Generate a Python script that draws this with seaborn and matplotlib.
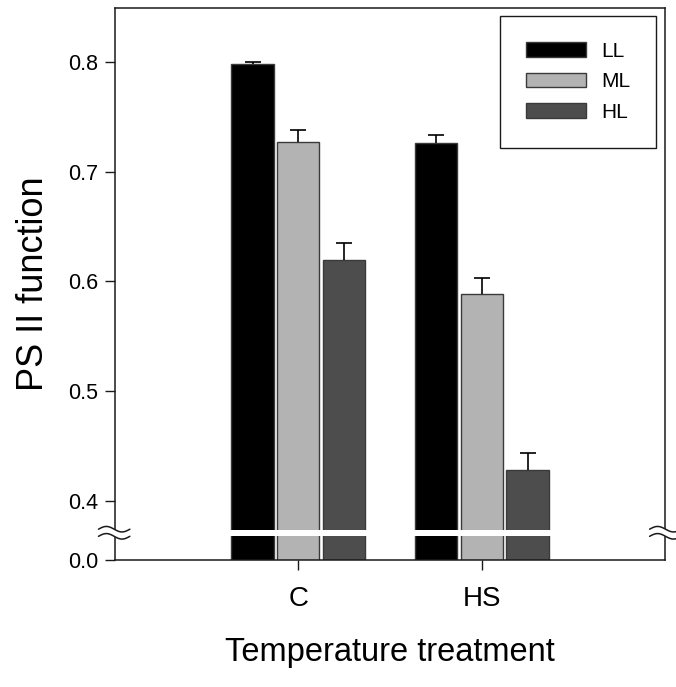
import numpy as np
import pandas as pd
import matplotlib
matplotlib.use("Agg")
import matplotlib.pyplot as plt
import matplotlib.transforms as mtransforms
import seaborn as sns

# ---- data ----
treatments = ["C", "HS"]
light_levels = ["LL", "ML", "HL"]
ll_values = [0.7985, 0.726]
ml_values = [0.7276, 0.5883]
hl_values = [0.6196, 0.428]
ll_errors = [0.0015, 0.0073]
ml_errors = [0.0104, 0.0152]
hl_errors = [0.0153, 0.0152]
ytick_values = [0.4, 0.5, 0.6, 0.7, 0.8]
ytick_labels = ["0.4", "0.5", "0.6", "0.7", "0.8"]
bar_colors = ["#000000", "#b3b3b3", "#4d4d4d"]

# broken axis: the bottom of the axis represents 0.0
AXIS_BOTTOM = 0.3459
AXIS_TOP = 0.8495
BREAK_Y = 0.3705

rows = []
for lvl, vals, errs in zip(light_levels, [ll_values, ml_values, hl_values],
                           [ll_errors, ml_errors, hl_errors]):
    for t, v, e in zip(treatments, vals, errs):
        rows.append({"Treatment": t, "Light": lvl, "Value": v, "Err": e})
df = pd.DataFrame(rows)

sns.set_style("ticks")
plt.rcParams["font.family"] = ["Liberation Sans", "DejaVu Sans"]
plt.rcParams["text.color"] = "black"
plt.rcParams["axes.labelcolor"] = "black"
plt.rcParams["xtick.color"] = "#1a1a1a"
plt.rcParams["ytick.color"] = "#1a1a1a"
plt.rcParams["xtick.labelcolor"] = "black"
plt.rcParams["ytick.labelcolor"] = "black"

fig = plt.figure(figsize=(6.76, 6.87), dpi=100)
ax = fig.add_axes([115 / 676, 1 - 560 / 687, 550 / 676, 552 / 687])

sns.barplot(data=df, x="Treatment", y="Value", hue="Light",
            order=treatments, hue_order=light_levels,
            palette=bar_colors, width=0.75, gap=0.08,
            edgecolor="#3a3a3a", linewidth=1.0, errorbar=None,
            saturation=1, ax=ax)

# error bars (upper only)
for cont, lvl in zip(ax.containers, light_levels):
    sub = df[df["Light"] == lvl].set_index("Treatment").loc[treatments]
    xs = [b.get_x() + b.get_width() / 2 for b in cont]
    eb = ax.errorbar(xs, sub["Value"].values,
                     yerr=[np.zeros(len(xs)), sub["Err"].values],
                     fmt="none", ecolor="black", elinewidth=1.2,
                     capsize=5.8, capthick=1.2, zorder=3)
    caps = eb.lines[1]
    if len(caps) >= 2:
        caps[0].set_visible(False)

ax.set_xlim(-1, 2)
ax.set_ylim(AXIS_BOTTOM, AXIS_TOP)
ax.set_yticks([AXIS_BOTTOM] + ytick_values)
ax.set_yticklabels(["0.0"] + ytick_labels)

# white break band across the bars
ax.axhspan(BREAK_Y - 0.0028, BREAK_Y + 0.0028, color="white", zorder=4, lw=0)

for s in ax.spines.values():
    s.set_visible(True)
    s.set_color("#1a1a1a")
    s.set_linewidth(1.1)

ax.tick_params(axis="y", direction="out", length=7, width=1.0,
               labelsize=15.5, pad=5)
ax.tick_params(axis="x", direction="out", length=7, width=1.0,
               labelsize=20, pad=12)

ax.set_xlabel("Temperature treatment", fontsize=23.5, labelpad=18)
ax.set_ylabel("PS II function", fontsize=26, labelpad=12)

# break marks on both spines
trans = mtransforms.blended_transform_factory(ax.transAxes, ax.transData)
amp = 0.0025
for x0, x1 in [(-0.03, 0.027), (0.972, 1.03)]:
    t = np.linspace(0, 1, 60)
    xx = x0 + (x1 - x0) * t
    wave = amp * np.sin(2 * np.pi * t)
    y_up = BREAK_Y + 0.0035 + wave
    y_lo = BREAK_Y - 0.0030 + wave
    ax.fill_between(xx, y_lo, y_up, color="white", transform=trans,
                    clip_on=False, zorder=5, lw=0)
    ax.plot(xx, y_up, color="#1a1a1a", lw=1.1, transform=trans,
            clip_on=False, zorder=6)
    ax.plot(xx, y_lo, color="#1a1a1a", lw=1.1, transform=trans,
            clip_on=False, zorder=6)

leg = ax.legend(loc="upper right", bbox_to_anchor=(0.984, 0.986),
                borderaxespad=0, fontsize=15, frameon=True, fancybox=False,
                handlelength=2.9, handleheight=0.72, labelspacing=0.55,
                borderpad=1.25, handletextpad=0.72, title=None)
leg.get_frame().set_edgecolor("#1a1a1a")
leg.get_frame().set_linewidth(1.0)
leg.get_frame().set_alpha(1)
for txt in leg.get_texts():
    txt.set_color("black")

fig.savefig("out.png", dpi=100)
